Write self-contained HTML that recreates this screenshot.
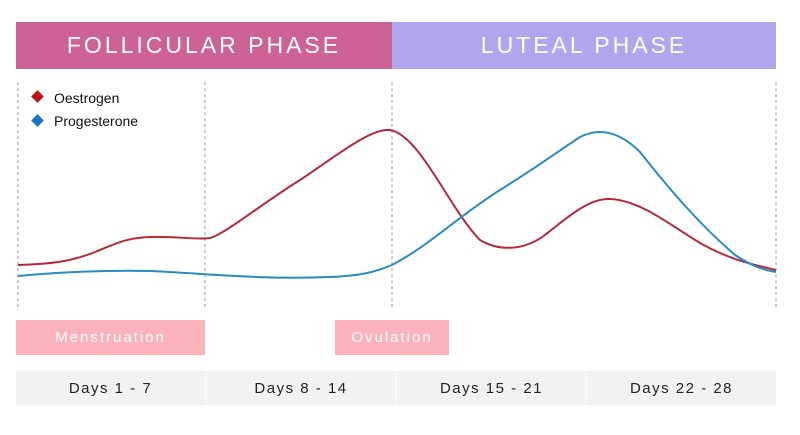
<!DOCTYPE html>
<html><head><style>
body{margin:0;width:800px;height:435px;background:#fff;font-family:"Liberation Sans",sans-serif;overflow:hidden;position:relative}
.a{position:absolute;box-sizing:border-box;display:flex;align-items:center;justify-content:center}
</style></head><body>
<div class="a" style="left:16px;top:22px;width:376px;height:47px;background:#cd6295;color:#fff;font-size:23px;letter-spacing:3px">FOLLICULAR PHASE</div>
<div class="a" style="left:392px;top:22px;width:384px;height:47px;background:#b1a6ee;color:#fff;font-size:23px;letter-spacing:3px">LUTEAL PHASE</div>
<div class="a" style="left:16px;top:320px;width:189px;height:35px;background:#fbb2bb;color:#fff;font-size:15px;letter-spacing:2px">Menstruation</div>
<div class="a" style="left:335px;top:320px;width:114px;height:35px;background:#fbb2bb;color:#fff;font-size:15px;letter-spacing:2px">Ovulation</div>
<div class="a" style="left:16px;top:371px;width:189px;height:34px;background:#f2f2f2;font-size:15px;letter-spacing:1.5px;color:#222">Days 1 - 7</div>
<div class="a" style="left:206px;top:371px;width:190px;height:34px;background:#f2f2f2;font-size:15px;letter-spacing:1.5px;color:#222">Days 8 - 14</div>
<div class="a" style="left:397px;top:371px;width:189px;height:34px;background:#f2f2f2;font-size:15px;letter-spacing:1.5px;color:#222">Days 15 - 21</div>
<div class="a" style="left:587px;top:371px;width:189px;height:34px;background:#f2f2f2;font-size:15px;letter-spacing:1.5px;color:#222">Days 22 - 28</div>
<svg width="800" height="435" style="position:absolute;left:0;top:0">
<g stroke="#999" stroke-dasharray="3,3" stroke-width="1">
<line x1="18" y1="82" x2="18" y2="308"/><line x1="205" y1="82" x2="205" y2="308"/><line x1="392" y1="82" x2="392" y2="308"/><line x1="776" y1="82" x2="776" y2="308"/></g>
<path d="M18,265 C50,264 70,262 95,252 C115,244 125,238 150,237 C175,236 195,240 210,238 C225,234 260,205 300,180 C335,157 370,128 390,130 C420,135 450,210 480,240 C500,252 525,250 545,235 C570,215 590,198 610,199 C640,200 670,225 700,243 C730,260 755,265 776,270" fill="none" stroke="#b52a3a" stroke-width="2"/>
<path d="M18,276 C60,272 110,270 150,271 C200,273 260,280 330,277 C360,276 375,272 392,265 C430,245 460,215 500,190 C540,165 560,150 580,137 C600,127 620,132 640,152 C670,190 700,225 735,255 C755,268 765,270 776,272" fill="none" stroke="#2a8bc0" stroke-width="2"/>
<rect x="33" y="92" width="9" height="9" fill="#c0141c" transform="rotate(45 37.5 96.5)"/>
<rect x="33" y="116" width="9" height="9" fill="#1a73c3" transform="rotate(45 37.5 120.5)"/>
<text x="54" y="103" font-size="14" font-family="Liberation Sans" fill="#111">Oestrogen</text>
<text x="54" y="126" font-size="14" font-family="Liberation Sans" fill="#111">Progesterone</text>
</svg>
</body></html>
